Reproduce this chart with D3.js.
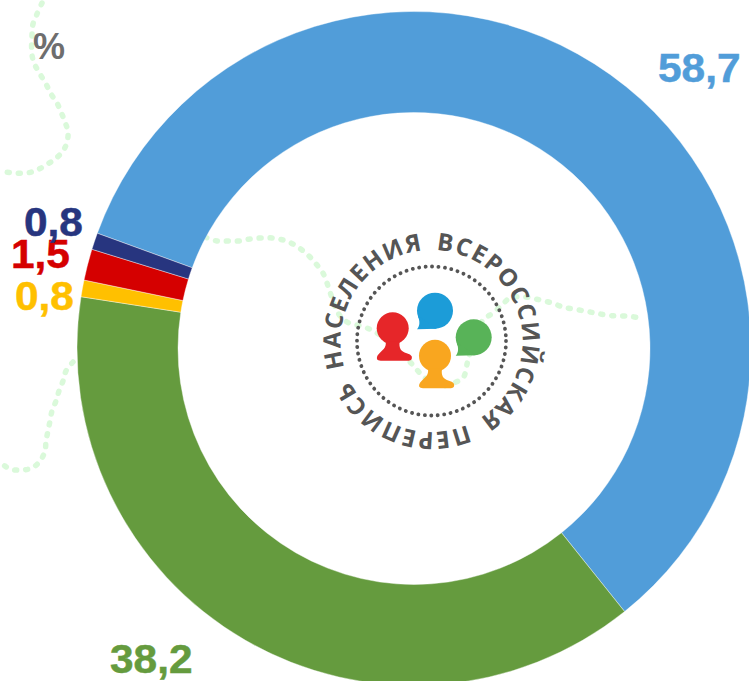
<!DOCTYPE html>
<html><head><meta charset="utf-8">
<script src="https://cdn.jsdelivr.net/npm/d3@7"></script>
<style>html,body{margin:0;padding:0;background:#fff;overflow:hidden}svg{display:block}</style>
</head><body><svg id="c" width="749" height="681"></svg>
<script>
const categories = ["blue","green","yellow","red","navy"];
const values = [58.7,38.2,0.8,1.5,0.8];
const labels = ["58,7","38,2","0,8","1,5","0,8"];
const colors = ["#519dd9","#659b3e","#ffc000","#d50000","#27357f"];
const labelX = [658,110,15,11,24];
const labelY = [82,672.5,310,268,235.5];
const logoText = "НАСЕЛЕНИЯ ВСЕРОССИЙСКАЯ ПЕРЕПИСЬ";
const deco1 = [[42,3],[37,14],[33,24],[32,35],[32,55],[35,65],[40,74],[46,84],[51,94],[57,103],[61,112],[65,122],[68,132],[67,142],[63,151],[55,159],[46,165],[37,170],[27,173],[15,173],[4,172]];
const deco2 = [[73,362],[66,371],[63,381],[59,391],[56,401],[52,411],[50,421],[48,431],[46,441],[45,451],[40,461],[32,468],[21,470],[10,469],[1,463]];
const deco3 = [[205,237],[217,241],[228,241],[239,241],[250,239],[261,238],[272,238],[283,240],[293,244],[302,250],[310,257],[317,265],[323,273],[327,283],[331,295],[338,313],[347,322],[357,325],[367,328],[377,333],[395,348],[410,362],[425,378],[440,386],[453,383],[463,378],[468,360],[475,338],[483,320],[493,313],[502,305],[510,298],[525,297],[540,300],[552,303],[563,307],[573,309],[585,311],[595,313],[606,315],[617,316],[628,316],[639,318]];

const svg = d3.select("#c");
const cx=414, cy=348.5, R=337, r=236;
const line = d3.line().curve(d3.curveCatmullRom);
svg.append("g").selectAll("path").data([deco1,deco2,deco3]).join("path")
  .attr("d",line).attr("fill","none").attr("stroke","#daf9da").attr("stroke-width",5.5)
  .attr("stroke-linecap","round").attr("stroke-dasharray","2 9");

const toRad = d3.scaleLinear().domain([0,360]).range([0,2*Math.PI]);
const pie = d3.pie().sort(null).startAngle(toRad(-70)).endAngle(toRad(290));
const arc = d3.arc().innerRadius(r).outerRadius(R);
svg.append("g").attr("transform",`translate(${cx},${cy})`)
  .selectAll("path").data(pie(values)).join("path")
  .attr("d",arc).attr("fill",(d,i)=>colors[i]).attr("stroke","#fff").attr("stroke-width",0.4);

svg.append("g").selectAll("text").data(labels).join("text")
  .attr("transform",(d,i)=>`translate(${labelX[i]},${labelY[i]}) scale(1.06,1)`).text(d=>d)
  .attr("fill",(d,i)=>colors[i]).attr("stroke",(d,i)=>colors[i]).attr("stroke-width",0.5)
  .attr("font-family","'Liberation Sans',Arial,sans-serif").attr("font-weight",700).attr("font-size",40);
svg.append("text").attr("x",33).attr("y",59).text("%").attr("fill","#6e6e6e")
  .attr("font-family","'Liberation Sans',Arial,sans-serif").attr("font-weight",700).attr("font-size",36);

// logo
const lx=431.5, ly=341;
const logo = svg.append("g").attr("transform",`translate(${lx},${ly})`);
logo.append("circle").attr("r",74.5).attr("fill","none").attr("stroke","#555").attr("stroke-width",3.8)
  .attr("stroke-linecap","round").attr("stroke-dasharray","0.1 6.4");
const tr=91, a0=toRad(-107);
const p0=[tr*Math.sin(a0),-tr*Math.cos(a0)], a1=a0+toRad(359.9);
const p1=[tr*Math.sin(a1),-tr*Math.cos(a1)];
logo.append("path").attr("id","ring").attr("fill","none")
  .attr("d",`M${p0[0]},${p0[1]}A${tr},${tr} 0 1 1 ${p1[0]},${p1[1]}`);
logo.append("text").attr("font-family","'Open Sans',sans-serif").attr("font-weight",700)
  .attr("font-size",24).attr("word-spacing",5).attr("fill","#555")
  .append("textPath").attr("href","#ring").attr("textLength",tr*2*Math.PI*0.974).attr("lengthAdjust","spacing").text(logoText);

const person="M-7,13 C-6,20 -10,21 -15,27 Q-18,32 -12,32.5 L16,32.5 Q20,32 19,28 Q18,26 14,25 C8,23 6,20 7,13 Z";
const people=[[392.7,328.3,"#e62629"],[435,355.7,"#f9a61f"]];
people.forEach(p=>{const g=svg.append("g").attr("transform",`translate(${p[0]},${p[1]})`).attr("fill",p[2]);
  g.append("circle").attr("r",16);g.append("path").attr("d",person);});
const bubbles=[[435,310.7,"#1c9cd8"],[473.7,337.3,"#58b358"]];
bubbles.forEach(p=>{const g=svg.append("g").attr("transform",`translate(${p[0]},${p[1]})`).attr("fill",p[2]);
  g.append("circle").attr("r",18);g.append("path").attr("d","M-17,5 C-15,11 -15,15 -18,18.5 L2,18 Z");});
</script></body></html>
